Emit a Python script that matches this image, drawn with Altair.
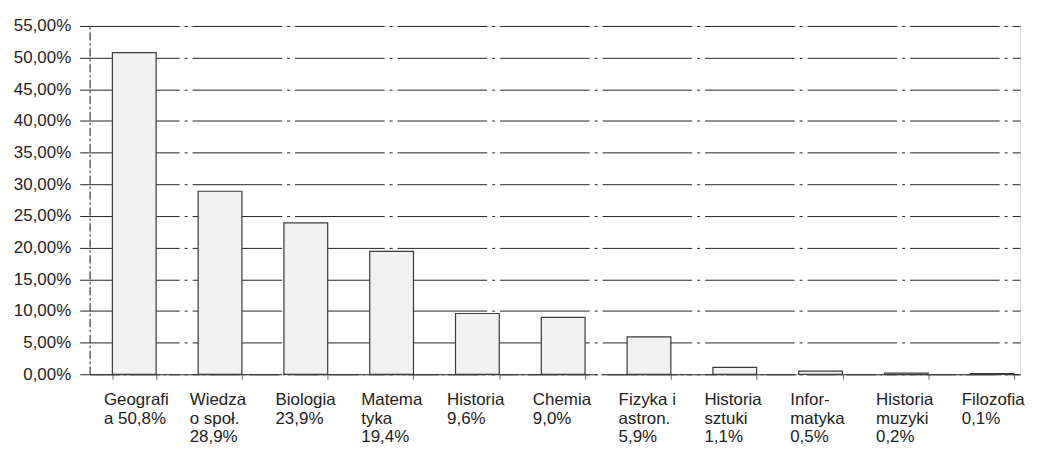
import altair as alt
import pandas as pd

categories = ["Geografi\na 50,8%", "Wiedza\no społ.\n28,9%", "Biologia\n23,9%",
              "Matema\ntyka\n19,4%", "Historia\n9,6%", "Chemia\n9,0%",
              "Fizyka i\nastron.\n5,9%", "Historia\nsztuki\n1,1%",
              "Infor-\nmatyka\n0,5%", "Historia\nmuzyki\n0,2%", "Filozofia\n0,1%"]
values = [0.508, 0.289, 0.239, 0.194, 0.096, 0.090, 0.059, 0.011, 0.005, 0.002, 0.001]
y_ticks = [0.0, 0.05, 0.10, 0.15, 0.20, 0.25, 0.30, 0.35, 0.40, 0.45, 0.50, 0.55]

df = pd.DataFrame({"label": categories, "value": values})

FONT = "Liberation Sans"

chart = alt.Chart(df).mark_bar(
    fill="#f1f1f1", stroke="#3a3a3a", strokeWidth=1.2
).encode(
    x=alt.X("label:N", sort=categories, title=None,
            scale=alt.Scale(paddingInner=0.49, paddingOuter=0.168, align=0.79),
            axis=alt.Axis(labelExpr="split(datum.label, '\\n')", labelAngle=0,
                          labelAlign="left", labelOffset=-31, labelBaseline="top",
                          labelFont=FONT, labelFontSize=17, labelLineHeight=19,
                          labelColor="#222222", labelPadding=12,
                          tickBand="extent", tickSize=5, tickColor="#666666",
                          domainColor="#333333", domainDash=[30, 4, 2, 4], grid=False)),
    y=alt.Y("value:Q", title=None,
            scale=alt.Scale(domain=[0, 0.55], nice=False),
            axis=alt.Axis(values=y_ticks,
                          labelExpr="replace(format(datum.value, '.2%'), '.', ',')",
                          labelFont=FONT, labelFontSize=17, labelColor="#222222",
                          labelPadding=9, tickSize=10, tickColor="#222222",
                          domainColor="#222222", domainDash=[8, 3, 2, 3],
                          grid=True, gridColor="#222222", gridWidth=1,
                          gridDash=[90, 5, 3, 5]))
).properties(
    width=935, height=350,
    padding={"left": 5, "top": 8, "right": 5, "bottom": 0}
).configure_view(stroke=None).configure(background="white")

chart.save("out.html", embed_options={"renderer": "svg", "actions": False})
